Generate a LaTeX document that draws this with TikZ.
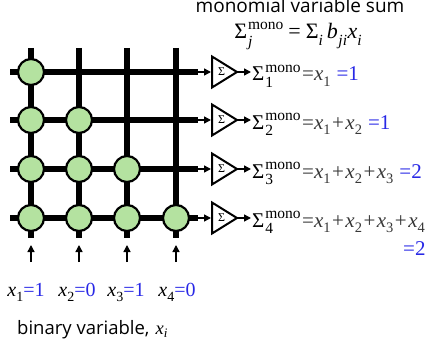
\documentclass[tikz,border=0pt]{standalone}
\usepackage{fontspec}
\setmainfont{Liberation Serif}
\newfontfamily\titlefont{Open Sans}
\usetikzlibrary{arrows.meta}
\definecolor{nodegreen}{RGB}{180,226,160}
\definecolor{valblue}{RGB}{40,40,230}
\definecolor{eqgray}{RGB}{55,55,55}
\newcommand\supsub[3]{\rlap{\raisebox{-0.32em}{\fontsize{#3}{#3}\selectfont #2}}\raisebox{0.42em}{\fontsize{#3}{#3}\selectfont #1}}
\newcommand\sbx[1]{\raisebox{-0.28em}{\fontsize{14.5}{14.5}\selectfont #1}}
\newcommand\pl{\kern1.5pt+\kern1.5pt}
\newcommand\sig[1]{Σ\kern1pt\supsub{mono}{#1}{15.5}\kern1.5pt}
\begin{document}
\begin{tikzpicture}[x=1pt,y=-1pt,
  wire/.style={line width=6pt},
  cell/.style={circle,draw=black,line width=2.2pt,fill=nodegreen,minimum size=26pt,inner sep=0pt},
  feed/.style={line width=1.4pt,-{Triangle[length=7pt,width=7pt]}},
  amp/.style={line width=2pt,line join=miter},
  sigma/.style={font=\fontsize{12}{12}\selectfont,inner sep=0pt},
  outtext/.style={anchor=base west,inner sep=0pt,font=\fontsize{21}{21}\selectfont},
  lbl/.style={anchor=base,inner sep=0pt,font=\fontsize{20}{20}\selectfont}]
\useasboundingbox (0,0) rectangle (428,342);
% vertical wires
\foreach \i/\x in {1/31,2/79,3/127,4/176}{
  \coordinate (vt\i) at (\x,48);
  \coordinate (vb\i) at (\x,238);
  \draw[wire] (vt\i) -- (vb\i);
  \coordinate (as\i) at (\x,262);
  \coordinate (ae\i) at (\x,245);
  \draw[feed] (as\i) -- (ae\i);
}
% horizontal wires, amplifiers
\foreach \j/\y in {1/72,2/120,3/169,4/218}{
  \coordinate (hl\j) at (10,\y);
  \coordinate (hr\j) at (198,\y);
  \draw[wire] (hl\j) -- (hr\j);
  \coordinate (ti\j) at (211,\y);
  \draw[feed] (hr\j) -- (ti\j);
  \draw[amp] (212,{\y-15.5}) -- (237,\y) -- (212,{\y+15.5}) -- cycle;
  \node[sigma] (s\j) at (221.5,\y) {Σ};
  \coordinate (to\j) at (237,\y);
  \coordinate (oe\j) at (251,\y);
  \draw[feed] (to\j) -- (oe\j);
}
% cells
\foreach \j/\y in {1/72,2/120,3/169,4/218}{
  \foreach \i/\x in {1/31,2/79,3/127,4/176}{
    \ifnum\i>\j\relax\else
      \node[cell] (c\j\i) at (\x,\y) {};
    \fi
  }
}
% outputs
\node[outtext] (o1) at (252,81) {\sig{1}\textcolor{eqgray}{=\textit{x}\sbx{1}}\kern6pt\textcolor{valblue}{=1}};
\node[outtext] (o2) at (252,129) {\sig{2}\textcolor{eqgray}{=\textit{x}\sbx{1}\pl\textit{x}\sbx{2}}\kern6pt\textcolor{valblue}{=1}};
\node[outtext] (o3) at (252,178) {\sig{3}\textcolor{eqgray}{=\textit{x}\sbx{1}\pl\textit{x}\sbx{2}\pl\textit{x}\sbx{3}}\kern6pt\textcolor{valblue}{=2}};
\node[outtext] (o4) at (252,227) {\sig{4}\textcolor{eqgray}{=\textit{x}\sbx{1}\pl\textit{x}\sbx{2}\pl\textit{x}\sbx{3}\pl\textit{x}\sbx{4}}};
\node[outtext] (o4b) at (403,255) {\textcolor{valblue}{=2}};
% bottom values
\node[lbl] (b1) at (26,296) {\textit{x}\raisebox{-0.28em}{\fontsize{14}{14}\selectfont 1}\textcolor{valblue}{=1}};
\node[lbl] (b2) at (77,296) {\textit{x}\raisebox{-0.28em}{\fontsize{14}{14}\selectfont 2}\textcolor{valblue}{=0}};
\node[lbl] (b3) at (126,296) {\textit{x}\raisebox{-0.28em}{\fontsize{14}{14}\selectfont 3}\textcolor{valblue}{=1}};
\node[lbl] (b4) at (177,296) {\textit{x}\raisebox{-0.28em}{\fontsize{14}{14}\selectfont 4}\textcolor{valblue}{=0}};
% titles
\node[anchor=base,inner sep=0pt,font=\titlefont\fontsize{19}{19}\selectfont] (title) at (300,13) {monomial variable sum};
\node[anchor=base,inner sep=0pt,font=\fontsize{22}{22}\selectfont] (formula) at (298,39) {Σ\kern1pt\supsub{mono}{\textit{j}}{15.5}\kern5pt=\kern5pt Σ\raisebox{-0.28em}{\fontsize{15.5}{15.5}\selectfont\textit{i}}\kern4pt\textit{b}\raisebox{-0.28em}{\fontsize{15.5}{15.5}\selectfont\kern0.5pt\textit{ji}}\kern0.5pt\textit{x}\raisebox{-0.28em}{\fontsize{15.5}{15.5}\selectfont\textit{i}}};
\node[anchor=base west,inner sep=0pt,font=\titlefont\fontsize{18.5}{18.5}\selectfont] (binlabel) at (17,334) {binary variable,\kern6pt\fontspec{Liberation Serif}\textit{x}\raisebox{-0.2em}{\fontsize{13}{13}\selectfont\textit{i}}};
\end{tikzpicture}
\end{document}
